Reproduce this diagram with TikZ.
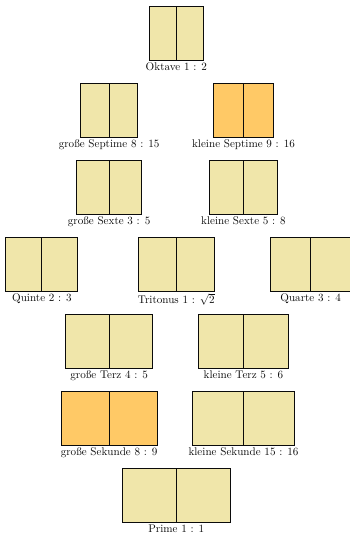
\documentclass[tikz,border=0pt]{standalone}
\usepackage{xcolor}
\usepackage{tikz}
\usetikzlibrary{positioning,calc}
\definecolor{khaki}{HTML}{F0E6AA}
\definecolor{orangeHell}{HTML}{FFC966}
\definecolor{tinta}{HTML}{0B0B0B}

\begin{document}
\begin{tikzpicture}[
    halb/.style={draw=tinta,line width=1pt,outer sep=0pt,minimum height=1.708cm,
                 inner sep=0pt},
    beschr/.style={inner sep=2pt,font=\normalsize\color{tinta}}]
  \useasboundingbox (0,0) rectangle (11.04,-16.89);

  % Name / x / y / p / q / Farbe / Text ; halbe Breite = 1.708cm * p/q
  \foreach \n/\x/\y/\p/\q/\farbe/\txt in {
      okt/5.576/-1.053/1/2/khaki/{Oktave 1 : 2},
      gsep/3.451/-3.489/8/15/khaki/{große Septime 8 : 15},
      ksep/7.701/-3.489/9/16/orangeHell/{kleine Septime 9 : 16},
      gsex/3.451/-5.925/3/5/khaki/{große Sexte 3 : 5},
      ksex/7.701/-5.925/5/8/khaki/{kleine Sexte 5 : 8},
      qui/1.326/-8.361/2/3/khaki/{Quinte 2 : 3},
      tri/5.576/-8.361/1/sqrt(2)/khaki/{Tritonus 1 : $\sqrt{2}$},
      qua/9.826/-8.361/3/4/khaki/{Quarte 3 : 4},
      gter/3.451/-10.797/4/5/khaki/{große Terz 4 : 5},
      kter/7.701/-10.797/5/6/khaki/{kleine Terz 5 : 6},
      gsek/3.451/-13.233/8/9/orangeHell/{große Sekunde 8 : 9},
      ksek/7.701/-13.233/15/16/khaki/{kleine Sekunde 15 : 16},
      pri/5.576/-15.669/1/1/khaki/{Prime 1 : 1}}{
    \pgfmathsetmacro\w{1.708*\p/\q}
    \node[halb,fill=\farbe,minimum width=\w cm,anchor=east] (\n-l) at (\x,\y) {};
    \node[halb,fill=\farbe,minimum width=\w cm,anchor=west] (\n-r) at (\x,\y) {};
    \node[beschr,below=0pt of \n-l.south east] (\n-t) {\txt};
  }
\end{tikzpicture}
\end{document}
